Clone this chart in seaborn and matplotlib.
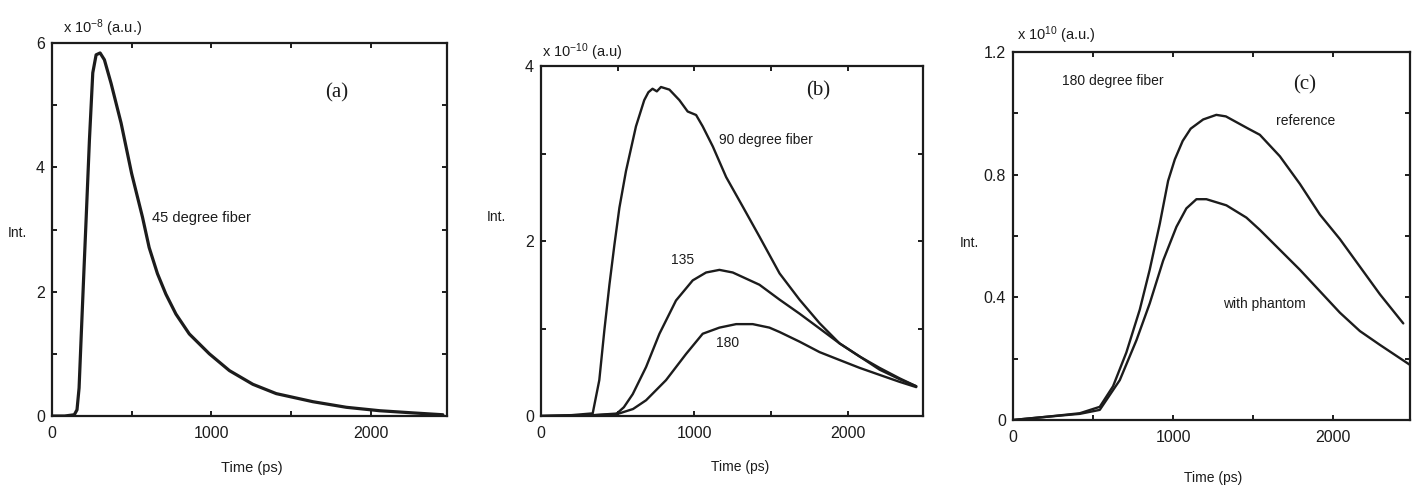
import numpy as np
import pandas as pd
import matplotlib
matplotlib.use("Agg")
import matplotlib.pyplot as plt
import seaborn as sns

# ---------------- data ----------------
# Panel (a): 45 degree fiber, intensity x 1e-8
t_a = [0, 80, 140, 157, 170, 182, 201, 214, 235, 256, 277, 302, 329, 371, 434, 500,
       568, 610, 662, 715, 778, 862, 988, 1114, 1261, 1408, 1638, 1848, 2057, 2266, 2454]
i_a = [0.0, 0.0, 0.02, 0.1, 0.45, 1.2, 2.37, 3.15, 4.44, 5.52, 5.81, 5.84, 5.73, 5.35,
       4.71, 3.9, 3.2, 2.71, 2.29, 1.96, 1.64, 1.32, 1.0, 0.73, 0.51, 0.36, 0.23, 0.14,
       0.085, 0.05, 0.02]

# Panel (b): intensity x 1e-10
t_90 = [0, 200, 337, 380, 413, 446, 478, 511, 554, 619, 673, 700, 727, 755, 782, 837,
        902, 956, 1011, 1054, 1120, 1207, 1316, 1424, 1555, 1685, 1816, 1946, 2077,
        2207, 2338, 2446]
i_90 = [0.0, 0.01, 0.03, 0.41, 0.98, 1.5, 1.95, 2.38, 2.8, 3.31, 3.61, 3.70, 3.74, 3.71,
        3.76, 3.73, 3.61, 3.48, 3.44, 3.31, 3.08, 2.73, 2.39, 2.05, 1.63, 1.33, 1.06,
        0.83, 0.68, 0.55, 0.43, 0.34]
t_135 = [0, 300, 489, 540, 598, 685, 772, 880, 989, 1076, 1163, 1250, 1424, 1555, 1685,
         1816, 1946, 2077, 2207, 2338, 2446]
i_135 = [0.0, 0.005, 0.02, 0.1, 0.25, 0.56, 0.94, 1.32, 1.55, 1.64, 1.67, 1.64, 1.50,
         1.33, 1.17, 1.00, 0.83, 0.68, 0.53, 0.42, 0.34]
t_180 = [0, 300, 511, 600, 685, 815, 946, 1054, 1163, 1272, 1380, 1489, 1555, 1685,
         1816, 1946, 2077, 2207, 2338, 2446]
i_180 = [0.0, 0.005, 0.03, 0.08, 0.18, 0.41, 0.71, 0.94, 1.01, 1.05, 1.05, 1.01, 0.96,
         0.85, 0.73, 0.64, 0.55, 0.47, 0.39, 0.33]

# Panel (c): 180 degree fiber, intensity x 1e10
t_ref = [0, 200, 417, 542, 625, 708, 792, 854, 917, 969, 1011, 1060, 1110, 1188, 1270,
         1330, 1400, 1470, 1542, 1667, 1792, 1917, 2042, 2167, 2292, 2438]
i_ref = [0.0, 0.01, 0.022, 0.043, 0.11, 0.22, 0.36, 0.49, 0.64, 0.78, 0.85, 0.91, 0.95,
         0.98, 0.995, 0.99, 0.97, 0.95, 0.93, 0.86, 0.77, 0.67, 0.59, 0.50, 0.41, 0.315]
t_ph = [0, 200, 417, 542, 667, 771, 854, 938, 1021, 1083, 1146, 1208, 1333, 1458, 1542,
        1667, 1792, 1917, 2042, 2167, 2292, 2479]
i_ph = [0.0, 0.01, 0.02, 0.033, 0.13, 0.26, 0.38, 0.52, 0.63, 0.69, 0.72, 0.72, 0.70,
        0.66, 0.62, 0.555, 0.49, 0.42, 0.35, 0.29, 0.245, 0.18]

# ---------------- figure ----------------
sns.set_theme(style="white")
plt.rcParams['font.family'] = ['Liberation Sans', 'DejaVu Sans']
plt.rcParams['mathtext.fontset'] = 'custom'
plt.rcParams['mathtext.rm'] = 'Liberation Sans'
plt.rcParams['mathtext.it'] = 'Liberation Sans'
plt.rcParams['mathtext.default'] = 'regular'

W, H = 1413, 487
fig = plt.figure(figsize=(W / 100, H / 100), dpi=100)
fig.patch.set_facecolor("white")

def box(l, t, r, b):
    return [l / W, 1 - b / H, (r - l) / W, (b - t) / H]

def fx(x):
    return x / W

def fy(y):
    return 1 - y / H

INK = "#1c1c1c"
TICK_FS = 11.5

def style(ax, xlim, ylim, yticks, ylabels):
    ax.set_xlim(*xlim)
    ax.set_ylim(*ylim)
    ax.set_xticks([0, 500, 1000, 1500, 2000])
    ax.set_xticklabels(["0", "", "1000", "", "2000"])
    ax.set_yticks(yticks)
    ax.set_yticklabels(ylabels)
    ax.tick_params(direction="in", length=3.5, width=1.4, top=True, right=True,
                   bottom=True, left=True, colors=INK, labelsize=TICK_FS,
                   labelcolor=INK)
    ax.tick_params(axis="x", pad=7)
    ax.tick_params(axis="y", pad=5)
    for s in ax.spines.values():
        s.set_visible(True)
        s.set_color(INK)
        s.set_linewidth(1.6)
    ax.set_xlabel("")
    ax.set_ylabel("")
    ax.set_facecolor("white")

SERIF = ["Liberation Serif", "DejaVu Serif"]

# Panel (a)
ax_a = fig.add_axes(box(52, 43, 447, 416))
sns.lineplot(x=t_a, y=i_a, ax=ax_a, color=INK, linewidth=2.3)
style(ax_a, (0, 2480), (0, 6), [0, 1, 2, 3, 4, 5, 6], ["0", "", "2", "", "4", "", "6"])
ax_a.text(1785, 5.19, "(a)", family=SERIF, fontsize=15, color=INK, ha="center", va="center")
ax_a.text(627, 3.18, "45 degree fiber", fontsize=10.5, color=INK, ha="left", va="center")
fig.text(fx(63), fy(28), r"x 10$^{-8}$ (a.u.)", fontsize=10.5, color=INK, ha="left", va="center")
fig.text(fx(8), fy(233), "Int.", fontsize=10, color=INK, ha="left", va="center")
fig.text(fx(252), fy(468), "Time (ps)", fontsize=10.5, color=INK, ha="center", va="center")

# Panel (b)
ax_b = fig.add_axes(box(541, 66, 923, 416))
df_b = pd.concat([
    pd.DataFrame({"t": t_90, "i": i_90, "s": "90"}),
    pd.DataFrame({"t": t_135, "i": i_135, "s": "135"}),
    pd.DataFrame({"t": t_180, "i": i_180, "s": "180"}),
])
sns.lineplot(data=df_b, x="t", y="i", hue="s", palette=[INK, INK, INK],
             ax=ax_b, linewidth=1.7, legend=False)
style(ax_b, (0, 2490), (0, 4), [0, 1, 2, 3, 4], ["0", "", "2", "", "4"])
ax_b.text(1804, 3.72, "(b)", family=SERIF, fontsize=15, color=INK, ha="center", va="center")
ax_b.text(1163, 3.15, "90 degree fiber", fontsize=10, color=INK, ha="left", va="center")
ax_b.text(924, 1.78, "135", fontsize=10, color=INK, ha="center", va="center")
ax_b.text(1217, 0.83, "180", fontsize=10, color=INK, ha="center", va="center")
fig.text(fx(542), fy(52), r"x 10$^{-10}$ (a.u)", fontsize=10.5, color=INK, ha="left", va="center")
fig.text(fx(487), fy(217), "Int.", fontsize=10, color=INK, ha="left", va="center")
fig.text(fx(740), fy(467), "Time (ps)", fontsize=10, color=INK, ha="center", va="center")

# Panel (c)
ax_c = fig.add_axes(box(1013, 52, 1410, 420))
df_c = pd.concat([
    pd.DataFrame({"t": t_ref, "i": i_ref, "s": "reference"}),
    pd.DataFrame({"t": t_ph, "i": i_ph, "s": "with phantom"}),
])
sns.lineplot(data=df_c, x="t", y="i", hue="s", palette=[INK, INK],
             ax=ax_c, linewidth=1.7, legend=False)
style(ax_c, (0, 2480), (0, 1.2), [0, 0.2, 0.4, 0.6, 0.8, 1.0, 1.2],
      ["0", "", "0.4", "", "0.8", "", "1.2"])
ax_c.text(309, 1.104, "180 degree fiber", fontsize=10, color=INK, ha="left", va="center")
ax_c.text(1820, 1.094, "(c)", family=SERIF, fontsize=15, color=INK, ha="center", va="center")
ax_c.text(1641, 0.974, "reference", fontsize=10, color=INK, ha="left", va="center")
ax_c.text(1313, 0.377, "with phantom", fontsize=10, color=INK, ha="left", va="center")
fig.text(fx(1017), fy(35), r"x 10$^{10}$ (a.u.)", fontsize=10.5, color=INK, ha="left", va="center")
fig.text(fx(960), fy(243), "Int.", fontsize=10, color=INK, ha="left", va="center")
fig.text(fx(1213), fy(478), "Time (ps)", fontsize=10, color=INK, ha="center", va="center")

fig.savefig("out.png", dpi=100, facecolor="white")
